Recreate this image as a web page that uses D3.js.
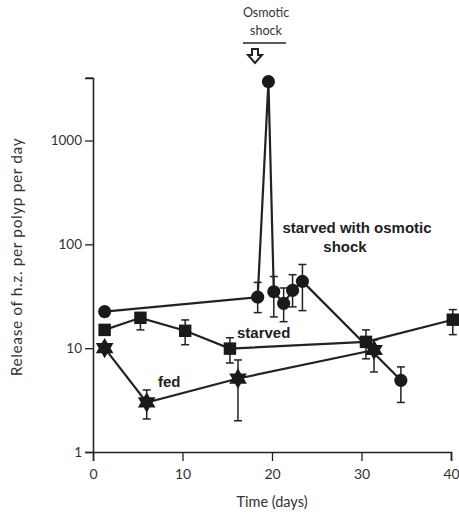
<!DOCTYPE html>
<html><head><meta charset="utf-8">
<script src="https://cdn.jsdelivr.net/npm/d3@7"></script>
<style>body{margin:0;background:#fff}svg{display:block}</style>
</head><body>
<script>
// ---- data ----
const shockDays  = [1.3, 18.4, 19.6, 20.2, 21.3, 22.3, 23.4, 34.4];
const shockVals  = [22.5, 31, 3700, 35, 27, 36, 44, 4.9];
const shockLo    = [null, 22, null, 20, 18, 25, 23, 3.0];
const shockHi    = [null, 43, null, 49, 38, 51, 64, 6.6];

const starvedDays = [1.3, 5.3, 10.3, 15.3, 30.5, 40.2];
const starvedVals = [15, 19.6, 14.7, 9.9, 11.5, 18.8];
const starvedLo   = [null, 15, 10.8, 7.2, 7.9, 13.5];
const starvedHi   = [null, 22, 18.7, 12.6, 15, 23.5];

const fedDays = [1.3, 6, 16.2, 31.4];
const fedVals = [10, 3.0, 5.1, 9.6];
const fedLo   = [null, 2.08, 2.0, 5.9];
const fedHi   = [null, 3.96, 7.7, 12];

const xTicks = [0, 10, 20, 30, 40];
const yTicksMajor = [1, 10, 100, 1000];

const W = 459, H = 514;
const svg = d3.select("body").append("svg").attr("width", W).attr("height", H);

const x = d3.scaleLinear().domain([0, 40]).range([93, 451]);
const y = d3.scaleLog().domain([1, 4000]).range([452, 78]);

const ink = "#222";
const axFont = "Lato, 'DejaVu Sans', sans-serif";

// minor ticks
const minor = [];
for (let d = 1; d <= 1000; d *= 10) for (let k = 2; k <= 9; k++) if (d * k <= 4000) minor.push(d * k);

const gy = svg.append("g").attr("transform", `translate(${x(0)},0)`);
gy.call(d3.axisLeft(y).tickValues(minor).tickSize(5).tickFormat(""));
gy.call(d3.axisLeft(y).tickValues(yTicksMajor).tickSize(8).tickPadding(3).tickFormat(d3.format("d")));
gy.selectAll(".domain").attr("stroke", ink).attr("stroke-width", 1.6);
gy.selectAll(".tick line").attr("stroke", ink).attr("stroke-width", 1.3);
gy.selectAll("text").attr("font-family", axFont).attr("font-size", 13.5).attr("fill", "#333");
gy.append("line").attr("x1", -7).attr("x2", 0).attr("y1", y(4000)).attr("y2", y(4000)).attr("stroke", ink).attr("stroke-width", 1.3);

const gx = svg.append("g").attr("transform", `translate(0,${y(1)})`);
gx.call(d3.axisBottom(x).tickValues(xTicks).tickSize(9).tickPadding(8).tickFormat(d3.format("d")));
gx.selectAll(".domain").attr("stroke", ink).attr("stroke-width", 1.6);
gx.selectAll(".tick line").attr("stroke", ink).attr("stroke-width", 1.3);
gx.selectAll("text").attr("font-family", axFont).attr("font-size", 14).attr("fill", "#333");

svg.append("text").attr("x", x(20)).attr("y", 507).attr("text-anchor", "middle")
  .attr("font-family", axFont).attr("font-size", 14.5).attr("fill", "#333").text("Time (days)");
svg.append("text").attr("transform", `translate(22,${257}) rotate(-90)`).attr("text-anchor", "middle")
  .attr("font-family", axFont).attr("font-size", 15.5).attr("letter-spacing", 0.6).attr("fill", "#333")
  .text("Release of h.z. per polyp per day");

// six-pointed star symbol
const hexStar = {
  draw(ctx, size) {
    const R = Math.sqrt(size) * 0.62, r = R / Math.sqrt(3);
    for (let i = 0; i < 12; i++) {
      const a = -Math.PI / 2 + i * Math.PI / 6, rr = i % 2 ? r : R;
      const px = rr * Math.cos(a), py = rr * Math.sin(a);
      i ? ctx.lineTo(px, py) : ctx.moveTo(px, py);
    }
    ctx.closePath();
  }
};

function series(days, vals, lo, hi, sym, size) {
  const pts = days.map((d, i) => ({d, v: vals[i], lo: lo[i], hi: hi[i]}));
  const g = svg.append("g");
  g.append("path").datum(pts)
    .attr("d", d3.line().x(p => x(p.d)).y(p => y(p.v)))
    .attr("fill", "none").attr("stroke", ink).attr("stroke-width", 2.2);
  const eb = g.selectAll(".eb").data(pts.filter(p => p.lo != null)).join("g");
  eb.append("line").attr("x1", p => x(p.d)).attr("x2", p => x(p.d))
    .attr("y1", p => y(p.lo)).attr("y2", p => y(p.hi)).attr("stroke", ink).attr("stroke-width", 1.5);
  [ "lo", "hi" ].forEach(k => eb.append("line")
    .attr("x1", p => x(p.d) - 4).attr("x2", p => x(p.d) + 4)
    .attr("y1", p => y(p[k])).attr("y2", p => y(p[k])).attr("stroke", ink).attr("stroke-width", 1.5));
  g.selectAll(".m").data(pts).join("path")
    .attr("transform", p => `translate(${x(p.d)},${y(p.v)})`)
    .attr("d", d3.symbol(sym, size)).attr("fill", "#1a1a1a");
}
series(shockDays, shockVals, shockLo, shockHi, d3.symbolCircle, 135);
series(starvedDays, starvedVals, starvedLo, starvedHi, d3.symbolSquare, 155);
series(fedDays, fedVals, fedLo, fedHi, hexStar, 270);

const lab = "Arial, 'Liberation Sans', sans-serif";
svg.append("text").attr("x", 357).attr("y", 233).attr("text-anchor", "middle").attr("font-family", lab)
  .attr("font-weight", "bold").attr("font-size", 15).attr("fill", "#222").text("starved with osmotic");
svg.append("text").attr("x", 345).attr("y", 252).attr("text-anchor", "middle").attr("font-family", lab)
  .attr("font-weight", "bold").attr("font-size", 15).attr("fill", "#222").text("shock");
svg.append("text").attr("x", 237).attr("y", 338).attr("font-family", lab)
  .attr("font-weight", "bold").attr("font-size", 15).attr("fill", "#222").text("starved");
svg.append("text").attr("x", 158).attr("y", 387).attr("font-family", lab)
  .attr("font-weight", "bold").attr("font-size", 15).attr("fill", "#222").text("fed");

// osmotic shock annotation
svg.append("text").attr("x", 266).attr("y", 17).attr("text-anchor", "middle").attr("font-family", axFont)
  .attr("font-size", 12.5).attr("fill", "#333").text("Osmotic");
svg.append("text").attr("x", 266).attr("y", 35).attr("text-anchor", "middle").attr("font-family", axFont)
  .attr("font-size", 12.5).attr("fill", "#333").text("shock");
svg.append("line").attr("x1", 243).attr("x2", 286).attr("y1", 43).attr("y2", 43).attr("stroke", ink).attr("stroke-width", 1.5);
svg.append("path").attr("d", "M252,49 h6 v6 h4 l-7,8 l-7,-8 h4 z").attr("fill", "#fff").attr("stroke", ink).attr("stroke-width", 2);
</script>
</body></html>
